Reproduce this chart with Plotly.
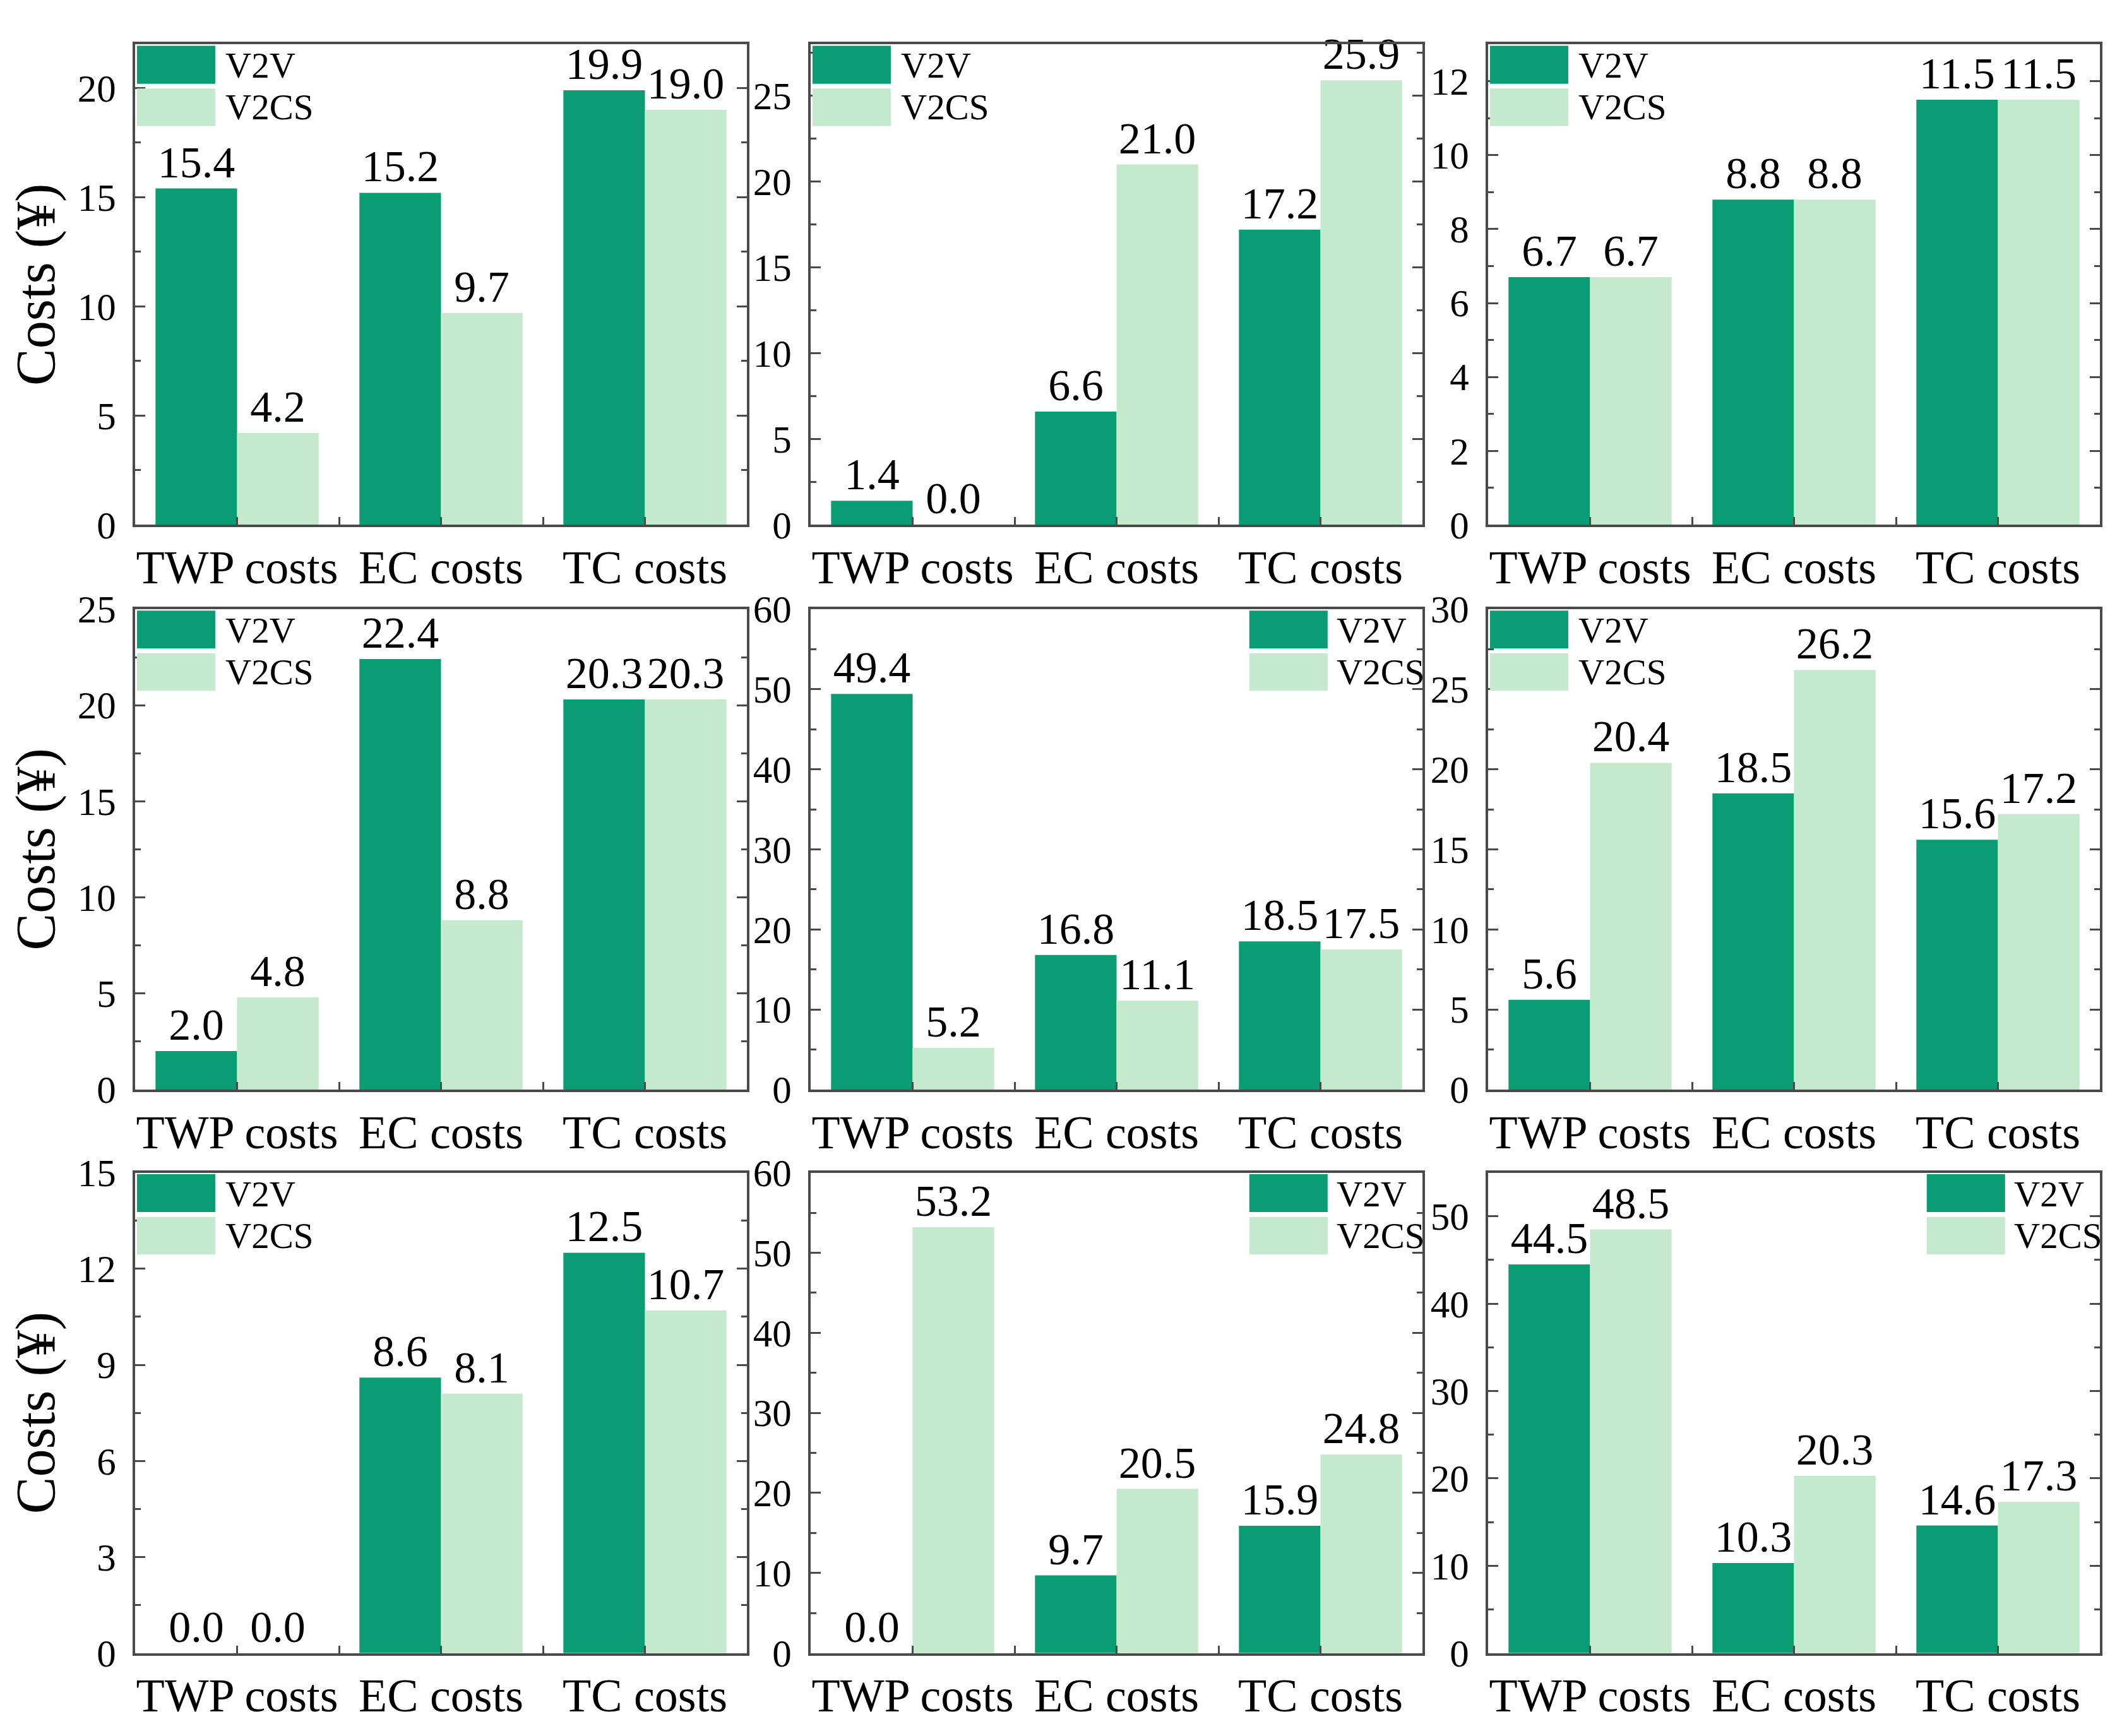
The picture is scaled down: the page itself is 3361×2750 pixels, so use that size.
import plotly.graph_objects as go
from plotly.subplots import make_subplots

categories = ["TWP costs", "EC costs", "TC costs"]
series_names = ["V2V", "V2CS"]

v2v = [
    [15.4, 15.2, 19.9],
    [1.4, 6.6, 17.2],
    [6.7, 8.8, 11.5],
    [2.0, 22.4, 20.3],
    [49.4, 16.8, 18.5],
    [5.6, 18.5, 15.6],
    [0.0, 8.6, 12.5],
    [0.0, 9.7, 15.9],
    [44.5, 10.3, 14.6],
]
v2cs = [
    [4.2, 9.7, 19.0],
    [0.0, 21.0, 25.9],
    [6.7, 8.8, 11.5],
    [4.8, 8.8, 20.3],
    [5.2, 11.1, 17.5],
    [20.4, 26.2, 17.2],
    [0.0, 8.1, 10.7],
    [53.2, 20.5, 24.8],
    [48.5, 20.3, 17.3],
]
y_max = [22, 28, 13, 25, 60, 30, 15, 60, 55]
y_dtick = [5, 5, 2, 5, 10, 5, 3, 10, 10]
legend_side = ["left", "left", "left", "left", "right", "left", "left", "right", "right"]
y_title = "Costs (¥)"

DARK = "#0a9d74"
LIGHT = "#c4e9cc"
FRAME = "#4a4a4a"
FONT = "Liberation Serif"

W, H = 3361, 2750
x_px = [(206, 1175), (1276, 2245), (2349, 3318)]
y_px = [(30, 810), (947, 1727), (1862, 2642)]
x_dom = [(a / W, b / W) for a, b in x_px]
y_dom = [(1 - b / H, 1 - a / H) for a, b in y_px]

cat_pos = list(range(len(categories)))

fig = make_subplots(rows=3, cols=3)

shapes = []
annotations = []
for i in range(9):
    r, c = divmod(i, 3)
    for vals, nm, col in ((v2v[i], series_names[0], DARK), (v2cs[i], series_names[1], LIGHT)):
        fig.add_trace(go.Bar(
            x=cat_pos, y=vals, name=nm, marker_color=col,
            marker_line_width=0, text=[f"{v:.1f}" for v in vals],
            textposition="outside", textfont=dict(size=70, color="black", family=FONT),
            cliponaxis=False, constraintext="none", showlegend=False,
            hovertext=categories,
        ), row=r + 1, col=c + 1)

    sfx = "" if i == 0 else str(i + 1)
    xr = f"x{sfx} domain"
    yr = f"y{sfx} domain"
    if legend_side[i] == "left":
        sx0, sx1, tx = 0.003, 0.131, 0.146
    else:
        sx0, sx1, tx = 0.717, 0.845, 0.858
    shapes.append(dict(type="rect", xref=xr, yref=yr, x0=sx0, x1=sx1, y0=0.918, y1=0.997,
                       fillcolor=DARK, line_width=0, layer="above"))
    shapes.append(dict(type="rect", xref=xr, yref=yr, x0=sx0, x1=sx1, y0=0.830, y1=0.908,
                       fillcolor=LIGHT, line_width=0, layer="above"))
    annotations.append(dict(xref=xr, yref=yr, x=tx, y=0.956, text=series_names[0], showarrow=False,
                            xanchor="left", yanchor="middle", font=dict(size=57, family=FONT, color="black")))
    annotations.append(dict(xref=xr, yref=yr, x=tx, y=0.869, text=series_names[1], showarrow=False,
                            xanchor="left", yanchor="middle", font=dict(size=57, family=FONT, color="black")))

    xa = dict(domain=list(x_dom[c]), range=[-0.5, len(categories) - 0.5],
              tickmode="array", tickvals=cat_pos, ticktext=categories,
              showline=True, linewidth=4, linecolor=FRAME, mirror=True,
              ticks="inside", ticklen=12, tickwidth=3, tickcolor=FRAME,
              minor=dict(ticks="inside", ticklen=12, tickwidth=3, tickcolor=FRAME, tick0=0.5, dtick=1),
              tickangle=0, tickfont=dict(size=74, family=FONT, color="black"), showgrid=False,
              zeroline=False, ticklabelstandoff=0)
    ya = dict(domain=list(y_dom[r]), range=[0, y_max[i]], dtick=y_dtick[i], tick0=0,
              showline=True, linewidth=4, linecolor=FRAME, mirror="ticks",
              ticks="inside", ticklen=16, tickwidth=3, tickcolor=FRAME,
              minor=dict(ticks="inside", ticklen=9, tickwidth=3, tickcolor=FRAME, dtick=y_dtick[i] / 2),
              tickfont=dict(size=61, family=FONT, color="black"), showgrid=False, zeroline=False,
              ticklabelstandoff=14)
    if c == 0:
        ya["title"] = dict(text=y_title, font=dict(size=88, family=FONT, color="black"), standoff=24)
    fig.layout[f"xaxis{sfx}"].update(xa)
    fig.layout[f"yaxis{sfx}"].update(ya)

fig.update_layout(
    width=W, height=H, margin=dict(l=0, r=0, t=0, b=0),
    paper_bgcolor="white", plot_bgcolor="white",
    barmode="group", bargap=0.2, bargroupgap=0,
    font=dict(family=FONT, color="black"),
    shapes=shapes, annotations=annotations,
)
fig.write_html("out.html")
